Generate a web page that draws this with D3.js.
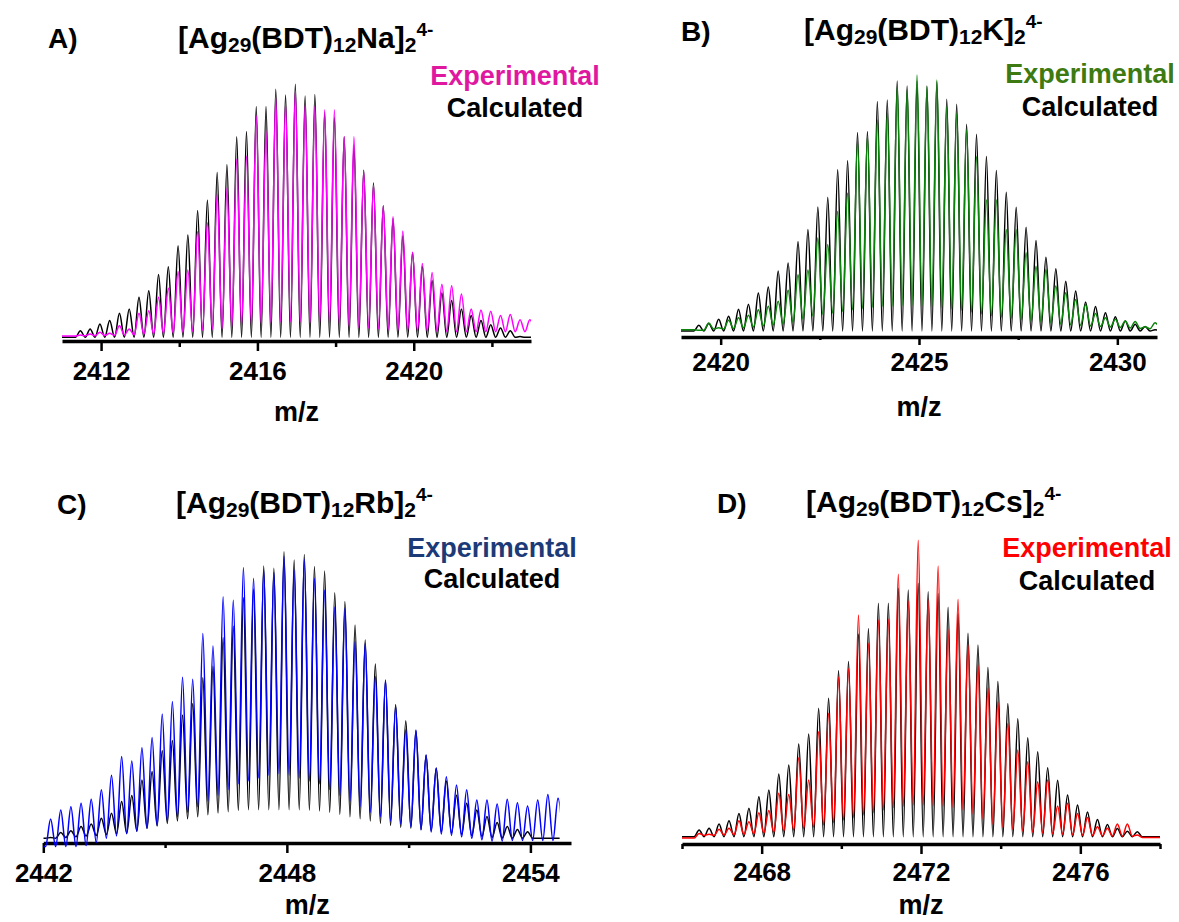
<!DOCTYPE html>
<html>
<head>
<meta charset="utf-8">
<script src="https://cdn.jsdelivr.net/npm/d3@7"></script>
<style>
body { margin: 0; background: #fff; }
svg text { font-family: "Liberation Sans", Arial, sans-serif; font-weight: bold; }
</style>
</head>
<body>
<svg id="chart" width="1179" height="922"></svg>
<script>
// isotope peaks of the 4- ion are 0.25 m/z apart
var peakStep = 0.25;

// —————— A) Na
var naStart = 2411.47;
var naCalc = [2.6, 3.3, 5.3, 6.6, 9.5, 11.2, 15.8, 18.4, 24.8, 27.9, 36.2, 40.4, 50.1, 54.3, 65.1, 68.2,
  79.3, 81.3, 91.2, 91.2, 98, 95.8, 100, 95.4, 96, 89, 87, 79.3, 76, 66, 61, 52, 47, 40, 33.4, 28,
  22.5, 17.5, 14.5, 11.2, 8.6, 6.6, 5, 3.7, 2.6, 0.3, 0];
var naExp = [0.9, 1.3, 2, 1.6, 4.6, 3.3, 9.5, 10.5, 15.8, 19.4, 26, 26.6, 41.8, 45.3, 56.5, 58.9,
  70.4, 71.7, 87.6, 81.6, 94.9, 92.4, 97.4, 91.8, 91.2, 89.9, 89.9, 79.3, 79.3, 65.5, 60.2, 51.9,
  47.7, 42, 33.6, 29.2, 25.6, 21, 20.4, 17.1, 11.2, 10.8, 10.3, 8.6, 9, 6.9, 6.9];
var naExpValley = [0.5, 0.6, 0.6, 0.7, 0.8, 0.9, 1, 1.2, 1.3, 1.5, 1.7, 2, 2.3, 2.7, 3.1, 3.5, 4,
  4.5, 5, 5.4, 5.8, 6, 6, 6, 5.8, 5.5, 5.2, 4.8, 4.4, 4, 3.6, 3.3, 3, 2.8, 2.6, 2.5, 2.4, 2.3, 2.3,
  2.2, 2.2, 2.2, 2.2, 2.2, 2.2, 2.2, 2.2, 2.2];

// —————— B) K
var kStart = 2419.45;
var kCalc = [2.3, 3, 4.7, 5.9, 8.7, 10.7, 15.2, 17.6, 24, 27.2, 35.8, 40.6, 49.6, 53.5, 64.5, 68.1,
  79.4, 79.8, 91.8, 92.4, 100, 98, 100, 98, 99.7, 92.7, 90.7, 82.7, 78.7, 69.8, 64.2, 55.5, 49.5,
  41.5, 36.2, 29.5, 24.9, 19.9, 16, 11.6, 9.8, 7.3, 5.7, 4, 2.7, 1.8, 0.5];
var kExp = [0.3, 3.2, 1.3, 4.3, 5.3, 6.3, 8.5, 9.9, 11.9, 16.3, 22.5, 24.4, 37.2, 34.6, 47.9, 55.2,
  75.8, 77.8, 84.4, 87.1, 97.7, 96.4, 102.4, 97.7, 100.4, 89.8, 87.1, 80.5, 69.8, 52.5, 52.5, 40.6,
  40.6, 31.3, 25.9, 24.6, 18, 15.3, 12.6, 10.6, 7, 5.3, 4.7, 4, 3.8, 1.7, 3.3];
var kExpValley = [0.5, 0.3, 0.8, 0.8, 1, 1.3, 1.6, 2, 2.4, 2.8, 3.5, 4.8, 6, 6.6, 7.2, 7.8, 8.4,
  8.9, 9.4, 9.8, 10, 10.2, 10.2, 10, 9.8, 9.4, 8.8, 8.2, 7.5, 6.8, 6.1, 5.5, 5, 4.5, 4, 3.6, 3.2,
  2.8, 2.5, 2.2, 2, 1.8, 1.6, 1.4, 1.2, 1, 0.9, 0.9];

// —————— C) Rb
var rbStart = 2442.18;
var rbCalc = [0.3, 2, 2.6, 4.1, 5, 7, 8.7, 12.8, 14.9, 20.3, 23.3, 30.6, 34.1, 43, 47, 56, 60, 70,
  74, 84, 87, 95, 94.2, 100, 97.1, 99, 94.8, 93.3, 85.7, 82.6, 74.4, 69.2, 60.8, 55, 46.7, 41, 37.5,
  29, 24.5, 20, 15, 12.2, 9.9, 7.6, 5.5, 4.1, 3.1, 2.3, 0, 0, 0];
var rbCalcValley = [0, 0, 0.3, 0.5, 0.8, 1, 1.3, 1.6, 1.7, 2.5, 3.5, 4.3, 5.2, 6, 6.8, 7.5, 8.2,
  8.8, 9.3, 9.7, 10, 10, 10, 10, 10, 10, 9.8, 9.5, 9, 8.3, 7.5, 6.8, 6, 5.2, 4.5, 3.8, 3.5, 3, 2.6,
  2.2, 1.8, 1.4, 1, 0.6, 0.3, 0.1, 0, 0, 0, 0, 0, 0];
var rbExp = [6.7, 9.9, 11, 12.2, 13.6, 16.9, 22, 28.5, 27, 31.6, 35.2, 43.4, 47.7, 56.2, 55.5, 71.5,
  67.1, 84.3, 83.1, 94.5, 90.7, 93.6, 92.7, 98.3, 93.6, 97.4, 90.7, 86.6, 80.6, 80.2, 68.6, 68,
  56.4, 55.2, 46, 37.8, 37.8, 29.1, 24.4, 21.5, 18.6, 16.9, 13.4, 13.4, 12, 13.6, 12.4, 11.3, 13.4,
  15.3, 14];
var rbExpValley = [-2.9, -2.9, -2.9, -2.9, -2.5, -1.5, 0, 0.8, 1.6, 2.5, 3.5, 4.5, 6, 7.5, 9, 11,
  13, 15, 17, 19, 20, 21, 22, 22.5, 22, 21, 20, 19, 17, 15, 13, 11, 9, 7.5, 6, 5, 4, 3, 2.2, 1.5, 1,
  0.5, 0, -0.5, -1, -1, -0.8, -0.8, -0.8, -0.8, -0.8, -0.8];

// —————— D) Cs
var csStart = 2466.43;
var csCalc = [2.6, 3.3, 5, 6.3, 9.2, 11.2, 15.8, 18.4, 24.7, 28.3, 36.6, 40.5, 50.7, 54.6, 65.5,
  69.1, 80, 82.2, 92.1, 92.1, 98, 97.4, 100, 96.7, 96, 90.5, 88, 80.3, 75.7, 66.8, 61.2, 52.6, 46.5,
  39, 33.5, 27.2, 22.3, 16.5, 12.5, 9.7, 6.8, 4.8, 3.2, 2.2, 2];
var csExp = [1.3, 1, 2.9, 3.3, 6.3, 5.9, 9.5, 10.3, 17.1, 16.7, 31.2, 22.4, 41.4, 48.7, 63, 66.4,
  87.5, 76.3, 85.5, 85.8, 103.6, 93, 117, 93.4, 106.8, 81.8, 93.7, 75.7, 67.8, 58.6, 53.3, 44.7,
  34.2, 29.6, 21.7, 22.4, 12.1, 13.2, 9.2, 7.6, 3.9, 3.3, 5, 5, 0.7];
var csExpValley = [-0.5, 0.5, 0.5, 0.7, 0.8, 1, 1.2, 1.5, 1.8, 2.2, 2.6, 3.2, 3.8, 4.6, 5.5, 6.5,
  7.5, 8.5, 9.5, 10.5, 11.5, 12, 12.5, 12.5, 12.3, 12, 11.5, 10.5, 9, 7, 5, 3.7, 2.8, 2.2, 1.8, 1.5,
  1.2, 1, 0.8, 0.6, 0.5, 0.4, 0.3, 0.2, 0.2, -0.3];

// —————— axes
var naDomain = [2411, 2423], naMajor = [2412, 2416, 2420], naMinor = [2414, 2418, 2422];
var kDomain = [2419, 2431], kMajor = [2420, 2425, 2430], kMinor = [2422.5, 2427.5];
var rbDomain = [2442, 2455], rbMajor = [2442, 2448, 2454], rbMinor = [2445, 2451];
var csDomain = [2466, 2478], csMajor = [2468, 2472, 2476], csMinor = [2466, 2470, 2474, 2478];

var panels = [
  {letter: "A)", metal: "Na", start: naStart, calc: naCalc, calcValley: null, exp: naExp, expValley: naExpValley,
   domain: naDomain, major: naMajor, minor: naMinor, span: [2411, 2423],
   line: "#ff00ff", text: "#e0189f",
   x0: 62, x1: 531, axisY: 341, base: 337.3, top: 84.3, majorLen: 10, minorLen: 6,
   letterXY: [48, 48], titleXY: [178, 48], legendX: 515, expY: 85, calcY: 116.7, tickY: 380, mzY: 421},
  {letter: "B)", metal: "K", start: kStart, calc: kCalc, calcValley: null, exp: kExp, expValley: kExpValley,
   domain: kDomain, major: kMajor, minor: kMinor, span: [2419, 2431],
   line: "#0b840b", text: "#3d7a12",
   x0: 681, x1: 1157, axisY: 337, base: 331, top: 81, majorLen: 8, minorLen: 3,
   letterXY: [681, 41], titleXY: [804, 40], legendX: 1090, expY: 83.3, calcY: 116.2, tickY: 371, mzY: 416},
  {letter: "C)", metal: "Rb", start: rbStart, calc: rbCalc, calcValley: rbCalcValley, exp: rbExp, expValley: rbExpValley,
   domain: rbDomain, major: rbMajor, minor: rbMinor, span: [2442, 2454.72],
   line: "#0000ff", text: "#1d3a78",
   x0: 43.3, x1: 571, axisY: 843, base: 838.3, top: 551.7, majorLen: 10, minorLen: 5,
   letterXY: [57, 514], titleXY: [176, 513], legendX: 492, expY: 556.7, calcY: 588.3, tickY: 882, mzY: 914},
  {letter: "D)", metal: "Cs", start: csStart, calc: csCalc, calcValley: null, exp: csExp, expValley: csExpValley,
   domain: csDomain, major: csMajor, minor: csMinor, span: [2466, 2478],
   line: "#ff0000", text: "#ff0000",
   x0: 682, x1: 1160, axisY: 844, base: 836.7, top: 583.3, majorLen: 10, minorLen: 5,
   letterXY: [717, 513], titleXY: [806, 512], legendX: 1087, expY: 557.3, calcY: 590, tickY: 881, mzY: 914}
];

var svg = d3.select("#chart");

// points at every valley and every peak top, smoothed by the curve
function profile(start, peaks, valleys, span) {
  var n = peaks.length;
  var v = function(j) { return valleys ? valleys[j] : 0; };
  var pts = [];
  if (span[0] < start - peakStep / 2) pts.push([span[0], v(0)]);
  peaks.forEach(function(h, k) {
    var c = start + k * peakStep;
    pts.push([c - peakStep / 2, v(k)]);
    pts.push([c, h]);
  });
  var last = start + (n - 1) * peakStep + peakStep / 2;
  pts.push([last, v(n)]);
  if (span[1] > last) pts.push([span[1], v(n)]);
  return pts;
}

function drawTitle(g, p) {
  var t = g.append("text")
    .attr("x", p.titleXY[0]).attr("y", p.titleXY[1])
    .style("font-size", "30px").attr("fill", "#000");
  t.append("tspan").text("[Ag");
  t.append("tspan").attr("dy", 4).style("font-size", "21px").text("29");
  t.append("tspan").attr("dy", -4).text("(BDT)");
  t.append("tspan").attr("dy", 4).style("font-size", "21px").text("12");
  t.append("tspan").attr("dy", -4).text(p.metal + "]");
  t.append("tspan").attr("dy", 4).style("font-size", "21px").text("2");
  t.append("tspan").attr("dy", -16).style("font-size", "19px").text("4-");
}

panels.forEach(function(p, i) {
  var g = svg.append("g").attr("class", "panel");

  var x = d3.scaleLinear().domain(p.domain).range([p.x0, p.x1]);
  var y = d3.scaleLinear().domain([0, 100]).range([p.base, p.top]);

  // axis
  var axis = g.append("g")
    .attr("transform", "translate(0," + p.axisY + ")")
    .call(d3.axisBottom(x).tickValues(p.major).tickSize(p.majorLen).tickSizeOuter(0).tickFormat(d3.format("d")));
  axis.select(".domain").attr("stroke-width", 3.5);
  axis.selectAll(".tick line").attr("stroke-width", 2.5);
  axis.selectAll(".tick text")
    .attr("dy", null)
    .attr("y", p.tickY - p.axisY)
    .attr("fill", "#000")
    .style("font-size", "26px");

  var minor = g.append("g")
    .attr("transform", "translate(0," + p.axisY + ")")
    .call(d3.axisBottom(x).tickValues(p.minor).tickSize(p.minorLen).tickSizeOuter(0).tickFormat(""));
  minor.select(".domain").remove();
  minor.selectAll(".tick line").attr("stroke-width", 2.5);

  // spectra
  var clipId = "clip" + i;
  g.append("clipPath").attr("id", clipId)
    .append("rect")
      .attr("x", x(p.span[0])).attr("y", p.top - 60)
      .attr("width", x(p.span[1]) - x(p.span[0]))
      .attr("height", p.axisY + 8 - (p.top - 60));

  var line = d3.line()
    .x(function(d) { return x(d[0]); })
    .y(function(d) { return y(d[1]); })
    .curve(d3.curveMonotoneX);

  var plot = g.append("g").attr("clip-path", "url(#" + clipId + ")");
  plot.append("path")
    .datum(profile(p.start, p.calc, p.calcValley, p.span))
    .attr("fill", "none").attr("stroke", "#000").attr("stroke-width", 1.5)
    .attr("d", line);
  plot.append("path")
    .datum(profile(p.start, p.exp, p.expValley, p.span))
    .attr("fill", "none").attr("stroke", p.line).attr("stroke-width", 1.5)
    .attr("d", line);

  // labels
  g.append("text").attr("x", p.letterXY[0]).attr("y", p.letterXY[1])
    .style("font-size", "28px").text(p.letter);
  drawTitle(g, p);

  g.append("text").attr("x", p.legendX).attr("y", p.expY)
    .attr("text-anchor", "middle").attr("fill", p.text)
    .style("font-size", "27px").text("Experimental");
  g.append("text").attr("x", p.legendX).attr("y", p.calcY)
    .attr("text-anchor", "middle").attr("fill", "#000")
    .style("font-size", "27px").text("Calculated");

  g.append("text").attr("x", (p.x0 + p.x1) / 2).attr("y", p.mzY)
    .attr("text-anchor", "middle")
    .style("font-size", "27px").text("m/z");
});
</script>
</body>
</html>
